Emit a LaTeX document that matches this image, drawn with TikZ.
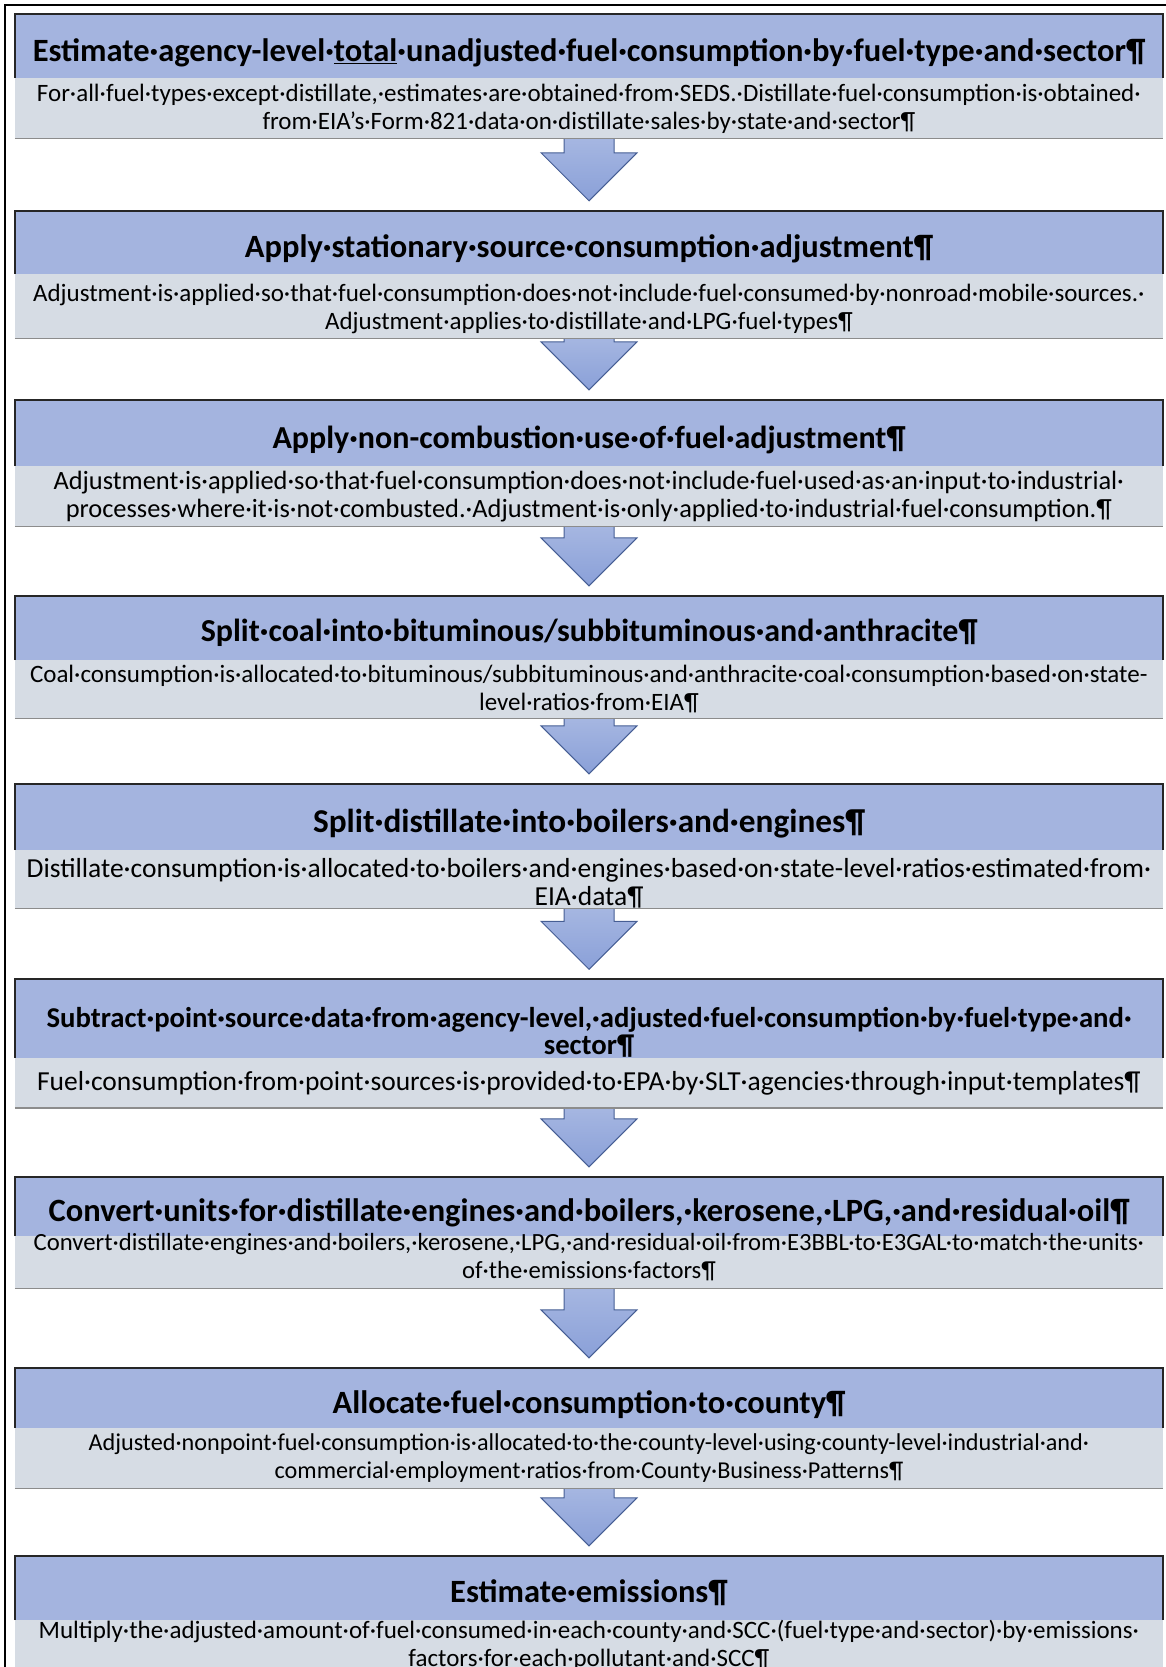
\documentclass[tikz,border=0pt]{standalone}
\usepackage{fontspec}
\setmainfont{Carlito}
\usetikzlibrary{calc}
\pgfdeclarelayer{bg}
\pgfsetlayers{bg,main}

\definecolor{headblue}{RGB}{164,180,223}
\definecolor{bandgrey}{RGB}{214,220,228}
\definecolor{arrowblue}{RGB}{138,160,216}
\definecolor{arrowedge}{RGB}{70,94,148}

\tikzset{
        headbox/.style={fill=headblue, minimum width=1148pt, inner sep=0pt, align=center,
                font=\fontsize{32.5}{27}\selectfont\bfseries},
        bandbox/.style={fill=bandgrey, minimum width=1148pt, inner sep=0pt, align=center,
                font=\fontsize{25}{28}\selectfont},
        headedge/.style={draw=black!85, line width=2pt},
        bandedge/.style={draw=black!45, line width=1.5pt},
        flowarrow/.style={draw=arrowedge, line width=1pt, line join=miter,
                top color=arrowblue!75!white, bottom color=arrowblue},
}

% heading text sits a little below the middle of its box
\newcommand{\headtext}[2][6.5pt]{\raisebox{0pt}[\dimexpr\height+#1+#1\relax][\depth]{#2}}

% block arrow from the bottom of one band to the top of the next heading
\newcommand{\flowstep}[2]{%
        \path[flowarrow] let \p1=(#1.south), \p2=(#2.north) in
                (\x1-25pt,\y1+4pt) -- (\x1-25pt,\y2+58pt) -- (\x1-48pt,\y2+58pt)
                -- (\x1,\y2+10pt) -- (\x1+48pt,\y2+58pt) -- (\x1+25pt,\y2+58pt)
                -- (\x1+25pt,\y1+4pt) -- cycle;}

\begin{document}
\begin{tikzpicture}[x=1pt, y=-1pt]
        \useasboundingbox (0,0) rectangle (1165,1667);
        \draw[line width=2.5pt] (5,5) rectangle (1190,1700);

        \node (h1) [headbox, minimum height=64pt] at (589, 46) {\headtext{Estimate·agency-level·\underline{total}·unadjusted·fuel·consumption·by·fuel·type·and·sector¶}};
        \node (d1) [bandbox, minimum height=60pt, anchor=north] at (h1.south) {For·all·fuel·types·except·distillate,·estimates·are·obtained·from·SEDS.·Distillate·fuel·consumption·is·obtained·\\from·EIA’s·Form·821·data·on·distillate·sales·by·state·and·sector¶};

        \node (h2) [headbox, minimum height=63pt] at (589, 242.5) {\headtext{Apply·stationary·source·consumption·adjustment¶}};
        \node (d2) [bandbox, minimum height=64pt, anchor=north] at (h2.south) {\raisebox{0pt}[26pt][8pt]{\parbox{1140pt}{\centering Adjustment·is·applied·so·that·fuel·consumption·does·not·include·fuel·consumed·by·nonroad·mobile·sources.·\\Adjustment·applies·to·distillate·and·LPG·fuel·types¶}}};

        \node (h3) [headbox, minimum height=66pt, font=\fontsize{32}{27}\selectfont\bfseries] at (589, 433) {\headtext{Apply·non-combustion·use·of·fuel·adjustment¶}};
        \node (d3) [bandbox, minimum height=60pt, anchor=north, font=\fontsize{26.4}{28}\selectfont] at (h3.south) {Adjustment·is·applied·so·that·fuel·consumption·does·not·include·fuel·used·as·an·input·to·industrial·\\processes·where·it·is·not·combusted.·Adjustment·is·only·applied·to·industrial·fuel·consumption.¶};

        \node (h4) [headbox, minimum height=64pt, font=\fontsize{32}{27}\selectfont\bfseries] at (589, 628) {\headtext[4.5pt]{Split·coal·into·bituminous/subbituminous·and·anthracite¶}};
        \node (d4) [bandbox, minimum height=58pt, anchor=north] at (h4.south) {Coal·consumption·is·allocated·to·bituminous/subbituminous·and·anthracite·coal·consumption·based·on·state-\\level·ratios·from·EIA¶};

        \node (h5) [headbox, minimum height=66pt, font=\fontsize{33.3}{27}\selectfont\bfseries] at (589, 817) {\headtext{Split·distillate·into·boilers·and·engines¶}};
        \node (d5) [bandbox, minimum height=58pt, anchor=north, font=\fontsize{27.5}{28}\selectfont] at (h5.south) {\raisebox{-6pt}[18pt][10pt]{\parbox{1140pt}{\centering Distillate·consumption·is·allocated·to·boilers·and·engines·based·on·state-level·ratios·estimated·from·\\EIA·data¶}}};

        \node (h6) [headbox, minimum height=69pt, font=\fontsize{28.7}{27}\selectfont\bfseries] at (589, 1018.5) {\headtext[14pt]{\parbox{1140pt}{\centering Subtract·point·source·data·from·agency-level,·adjusted·fuel·consumption·by·fuel·type·and·\\sector¶}}};
        \node (d6) [bandbox, minimum height=50pt, anchor=north, font=\fontsize{27.5}{28}\selectfont] at (h6.south) {\headtext[0.5pt]{Fuel·consumption·from·point·sources·is·provided·to·EPA·by·SLT·agencies·through·input·templates¶}};

        \node (h7) [headbox, minimum height=59pt] at (589, 1206.5) {\headtext{Convert·units·for·distillate·engines·and·boilers,·kerosene,·LPG,·and·residual·oil¶}};
        \node (d7) [bandbox, minimum height=52pt, anchor=north, font=\fontsize{24.7}{28}\selectfont] at (h7.south) {\raisebox{0pt}[14pt][12pt]{\parbox{1140pt}{\centering Convert·distillate·engines·and·boilers,·kerosene,·LPG,·and·residual·oil·from·E3BBL·to·E3GAL·to·match·the·units·\\of·the·emissions·factors¶}}};

        \node (h8) [headbox, minimum height=60pt] at (589, 1398) {\headtext{Allocate·fuel·consumption·to·county¶}};
        \node (d8) [bandbox, minimum height=60pt, anchor=north, font=\fontsize{24.2}{28}\selectfont] at (h8.south) {Adjusted·nonpoint·fuel·consumption·is·allocated·to·the·county-level·using·county-level·industrial·and·\\commercial·employment·ratios·from·County·Business·Patterns¶};

        \node (h9) [headbox, minimum height=64pt] at (589, 1588) {\headtext[5pt]{Estimate·emissions¶}};
        \node (d9) [bandbox, minimum height=50pt, anchor=north] at (h9.south) {Multiply·the·adjusted·amount·of·fuel·consumed·in·each·county·and·SCC·(fuel·type·and·sector)·by·emissions·\\factors·for·each·pollutant·and·SCC¶};

        % frames round the headings and the line under each band
        \foreach \i in {1,...,9} {
                \draw[headedge] (h\i.south west) |- (h\i.north east) -- (h\i.south east);
                \draw[bandedge] (d\i.south west) -- (d\i.south east);
        }

        \begin{pgfonlayer}{bg}
                \flowstep{d1}{h2}
                \flowstep{d2}{h3}
                \flowstep{d3}{h4}
                \flowstep{d4}{h5}
                \flowstep{d5}{h6}
                \flowstep{d6}{h7}
                \flowstep{d7}{h8}
                \flowstep{d8}{h9}
        \end{pgfonlayer}
\end{tikzpicture}
\end{document}
